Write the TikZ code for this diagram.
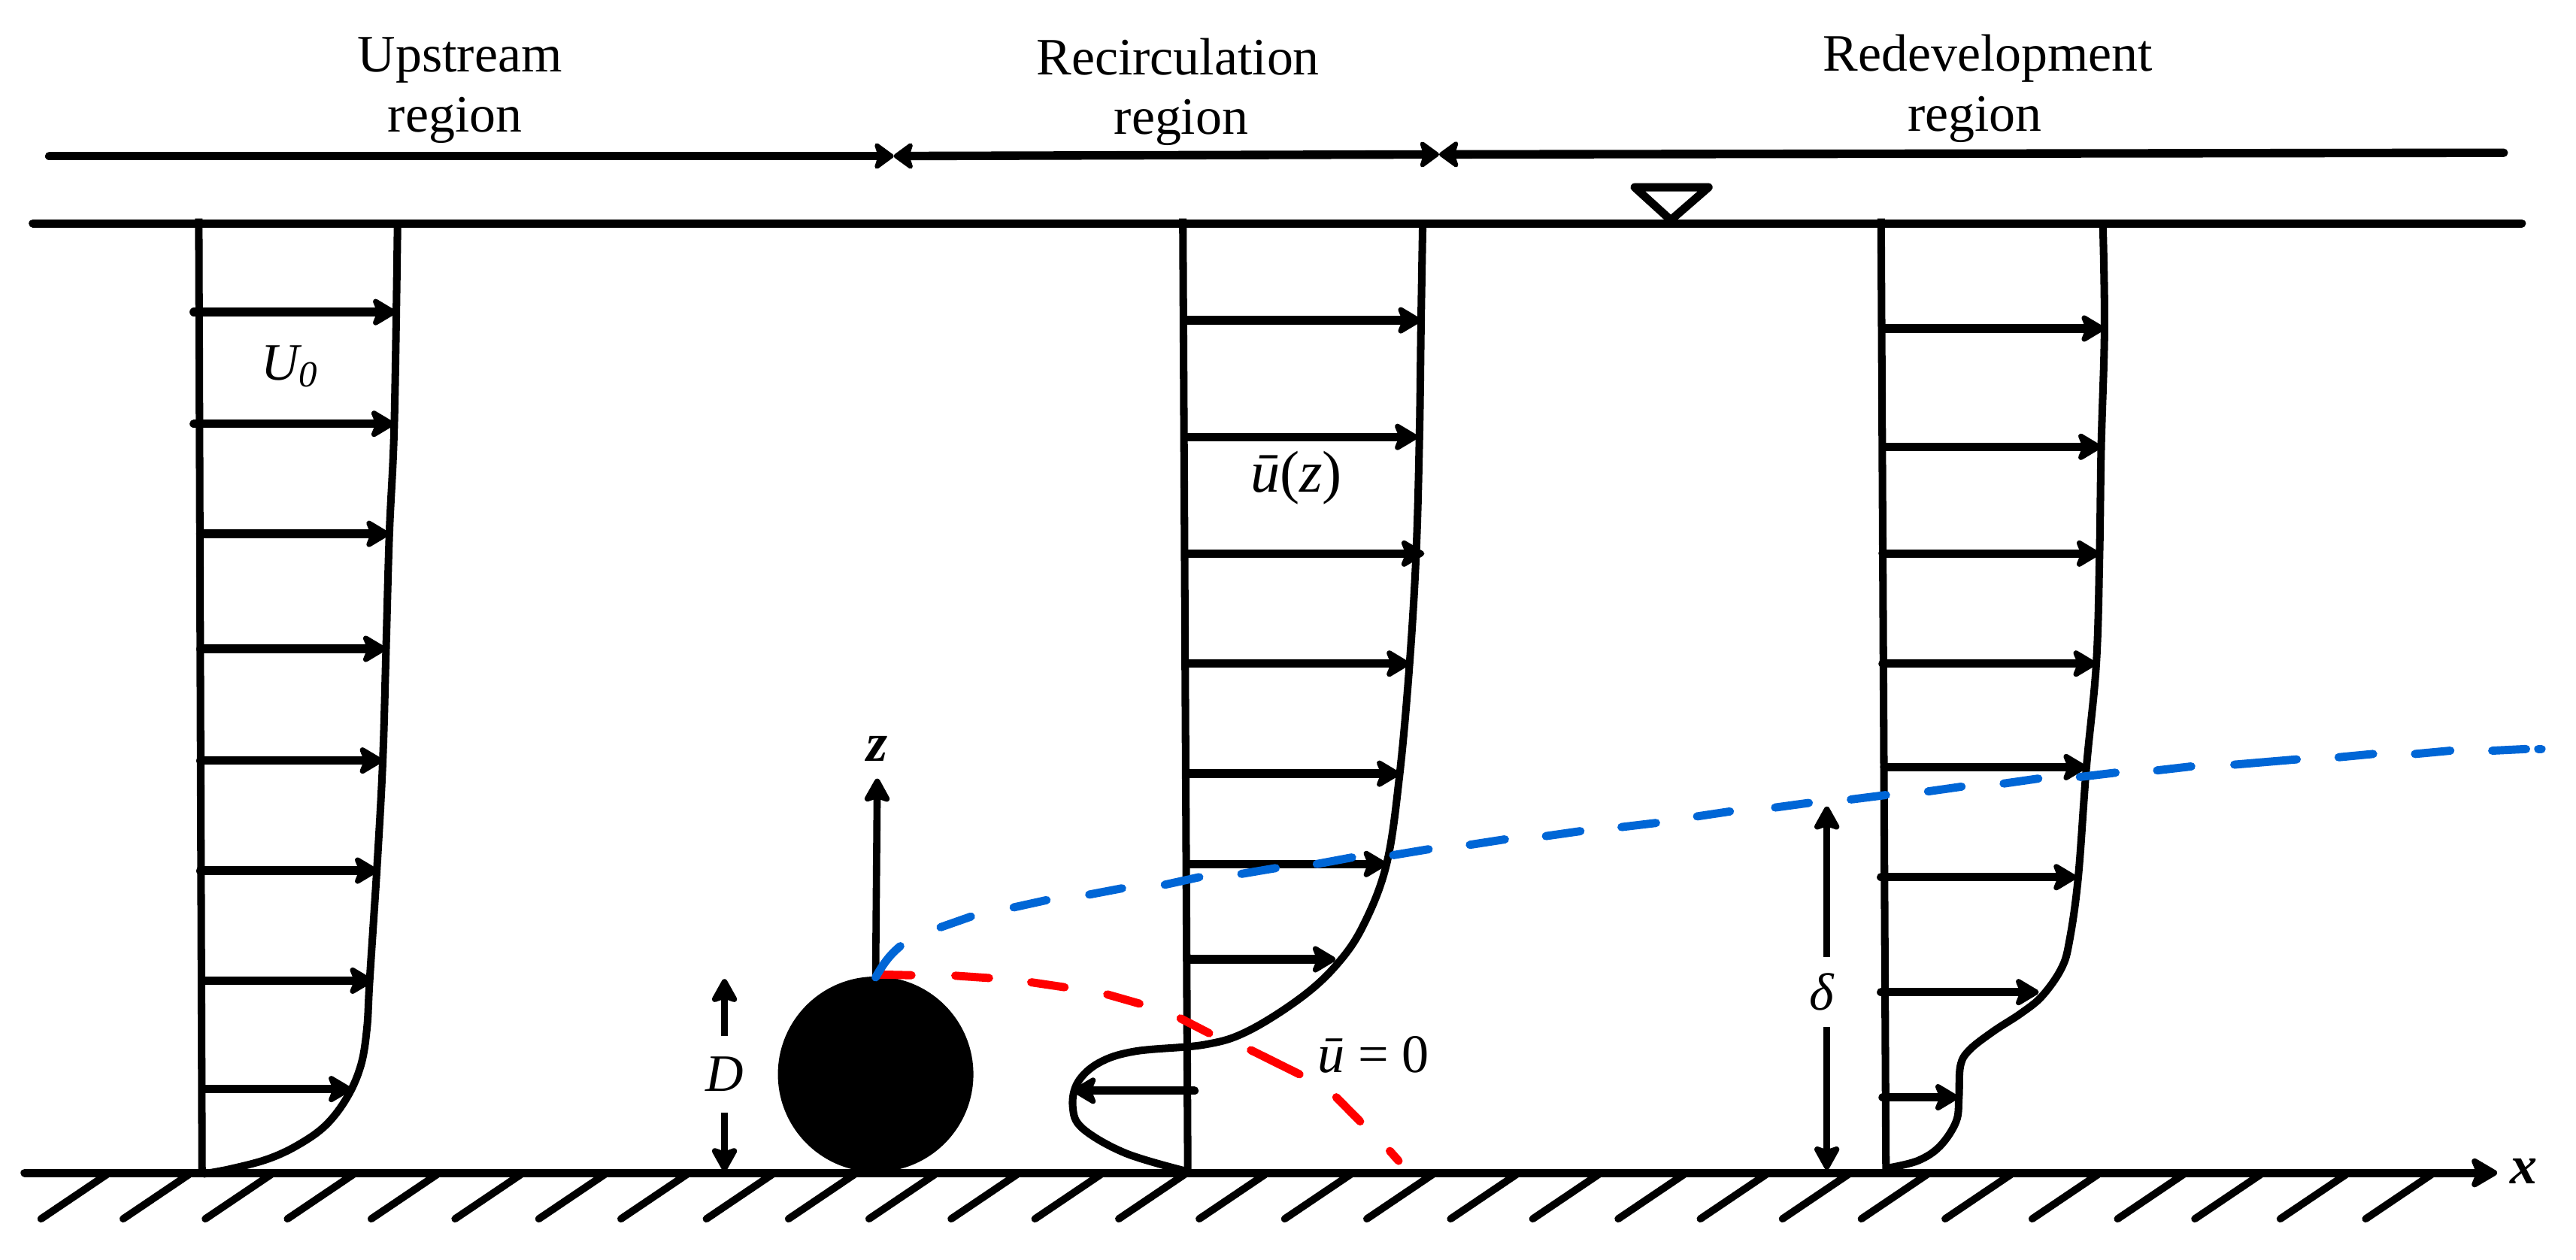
\documentclass[tikz,border=0pt]{standalone}
\usepackage{fontspec}
\setmainfont{Liberation Serif}
\usetikzlibrary{arrows.meta}

\definecolor{curveblue}{RGB}{0,102,214}
\tikzset{
    velhead/.tip={Stealth[length=1.7mm,width=2mm,inset=0.4mm,round]},
    dimhead/.tip={Stealth[length=1.7mm,width=1.85mm,inset=0.3mm,round]},
    tiehead/.tip={Stealth[length=1.35mm,width=1.95mm,inset=0.3mm,round]},
    wall/.style={line width=0.5mm, line cap=round},
    profile/.style={line width=0.46mm, line join=round},
    velarrow/.style={line width=0.52mm, line cap=round, -velhead},
    dimarrow/.style={line width=0.44mm, dimhead-dimhead},
    tieline/.style={line width=0.52mm, line cap=round},
    hatchline/.style={line width=0.45mm, line cap=round},
    blueline/.style={line width=0.5mm, line cap=round, color=curveblue},
    redline/.style={line width=0.5mm, line cap=round, color=red},
    lab/.style={font=\fontsize{9.1}{10.4}\selectfont, inner sep=0pt, align=center},
    itlab/.style={lab, font=\fontsize{9.1}{10.4}\selectfont\itshape},
    axlab/.style={lab, font=\fontsize{9.4}{10.4}\selectfont\bfseries\itshape},
}

\begin{document}
\begin{tikzpicture}[x=0.1mm, y=-0.1mm]
    \useasboundingbox (0,0) rectangle (1568,767);

    % region labels
    \node[lab] (upstream) at (280,55) {Upstream\\region\hspace*{0.6mm}};
    \node[lab] (recirc) at (717,56) {Recirculation\\\hspace*{0.4mm}region};
    \node[lab] (redev) at (1210,54) {Redevelopment\\region\hspace*{1.6mm}};

    % region extents
    \coordinate (extA) at (30,95);
    \coordinate (extB) at (544,95);
    \coordinate (extC) at (876,94);
    \coordinate (extD) at (1524,93);
    \draw[tieline, -tiehead] (extA) -- (extB);
    \draw[tieline, tiehead-tiehead] (extB) -- (extC);
    \draw[tieline, -tiehead] (extD) -- (extC);

    % water surface
    \coordinate (surfL) at (20,136);
    \coordinate (surfR) at (1535,136);
    \draw[wall] (surfL) -- (surfR);
    \draw[wall, line join=round] (995,114) -- (1040,114) -- (1017,134) -- cycle;

    % bed and hatching
    \coordinate (bedL) at (15,714);
    \coordinate (bedR) at (1520,714);
    \draw[wall, -{Stealth[length=1.9mm,width=2.2mm,inset=0.45mm,round]}] (bedL) -- (bedR);
    \node[axlab] (xlabel) at (1536,713) {x};
    \foreach \xb in {25,75,125,175,226,277,328,378,430,480,529,579,630,681,730,782,832,883,933,985,1035,1085,1133,1184,1237,1289,1336,1388,1440}
        \draw[hatchline] (\xb,742) -- ++(40,-27);

    % upstream profile
    \draw[profile] (121,133) -- (123,714);
    \draw[profile] plot[smooth, tension=0.6] coordinates {(242,136) (240,258) (237,325) (235,395) (233,463) (229.6,526) (225,597) (223.4,625.5) (219.7,648.4) (211.3,668) (198.3,685) (181.5,697) (163,705.6) (140.4,711.6) (123.6,714.7)};
    \foreach \y/\xa/\xb in {190/118/241, 258/118/240, 325/122/237, 395/122/235, 463/122/233, 530/122/230, 597/123/227, 663/124/214}
        \draw[velarrow] (\xa,\y) -- (\xb,\y);
    \node[itlab] (uzero) at (177,223) {U\textsubscript{0}};

    % recirculation profile
    \draw[profile] (720,133) -- (723,714);
    \draw[profile] plot[smooth, tension=0.6] coordinates {(866,136) (865,195) (864,266) (862,337) (858,404) (852,471) (844,526) (829.5,564) (813,588) (791,608) (759,628) (733,636) (691,640) (669,647) (656,659) (653,674) (659,687) (685,702) (722,713)};
    \foreach \y/\xa/\xb in {195/722/865, 266/722/863, 337/722/867, 404/722/858, 471/723/852, 526/723/844, 584/723/813}
        \draw[velarrow] (\xa,\y) -- (\xb,\y);
    \draw[velarrow] (727,664) -- (653,664);
    \node[lab, font=\fontsize{10.2}{11}\selectfont] (ubarz) at (789,291) {\textit{ū}(\textit{z})};

    % redevelopment profile
    \draw[profile] (1145,133) -- (1148,714);
    \draw[profile] plot[smooth, tension=0.6] coordinates {(1280,136) (1281,200) (1279,272) (1278,337) (1276,404) (1270,467) (1265,534) (1259.7,572.5) (1254.8,589.5) (1243,606.4) (1230,617) (1213.7,627.6) (1199,639) (1193.3,648.8) (1192.4,668) (1190.7,682.7) (1181,697.6) (1167.7,706.5) (1149.6,711)};
    \foreach \y/\xa/\xb in {200/1147/1281, 272/1147/1279, 337/1146/1278, 404/1146/1276, 467/1147/1270, 534/1145/1264, 604/1145/1241, 668/1146/1192}
        \draw[velarrow] (\xa,\y) -- (\xb,\y);

    % cylinder, axes, sizes
    \node[circle, fill=black, inner sep=0pt, minimum size=11.9mm] (cyl) at (533,654) {};
    \coordinate (ztip) at (534,474);
    \draw[velarrow, line width=0.44mm, -dimhead] (cyl.north) -- (ztip);
    \node[axlab] (zlabel) at (534,456) {z};
    \coordinate (dtop) at (441,596);
    \coordinate (dbot) at (441,713);
    \draw[dimarrow] (dtop) -- (dbot);
    \node[itlab, fill=white, inner ysep=1.3mm] (dlabel) at (441,654) {D};
    \coordinate (deltop) at (1112,491);
    \coordinate (delbot) at (1112,712);
    \draw[dimarrow] (deltop) -- (delbot);
    \node[itlab, fill=white, inner ysep=1.0mm] (dellabel) at (1109,604) {δ};

    % zero velocity line
    \foreach \xa/\ya/\xb/\yb in {535.6/593.3/554.8/593.7, 581.5/594/602/595.4, 627.7/598/648/601, 674/605.4/693.6/611, 718.6/620/736/629, 761.4/639.3/791/654, 813.4/668/827.9/682.7, 846/700.7/851.3/706.7}
        \draw[redline] (\xa,\ya) -- (\xb,\yb);
    \node[lab, font=\fontsize{9.4}{10.4}\selectfont] (uzeroline) at (836,642) {\textit{ū} = 0};

    % boundary layer edge
    \draw[blueline] (533,595) .. controls (538,586) and (542,581) .. (548,576);
    \foreach \xa/\ya/\xb/\yb in {572.5/564.5/591/558, 617/552.4/637/548, 663/544.6/683/540.8, 709/538.6/730/534, 755.6/532/776.5/528.5, 801.5/526/823/522, 848/520.6/869.6/517, 894.7/514.3/916/511, 941/509/962/506, 987/503.5/1008/501, 1033/497/1053/494, 1080.5/491.6/1101/488.8, 1126.6/486.7/1148/484, 1173.6/481.8/1194/478.9, 1219.6/477/1240.7/474, 1266/473/1287.7/470.4, 1313/469/1333.8/466.6, 1360/465.5/1398/462.3, 1423.5/461/1444.5/459, 1470/459/1491.5/457, 1517/457/1537.6/456, 1545/456/1547/456}
        \draw[blueline] (\xa,\ya) -- (\xb,\yb);
\end{tikzpicture}
\end{document}
